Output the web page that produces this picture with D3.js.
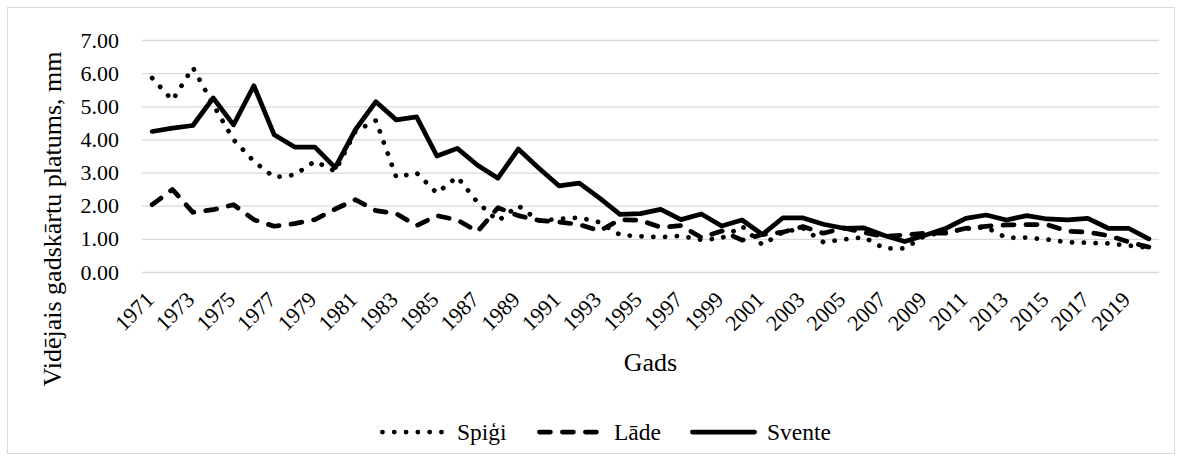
<!DOCTYPE html>
<html>
<head>
<meta charset="utf-8">
<script src="https://cdn.jsdelivr.net/npm/d3@7"></script>
<style>
  body { margin: 0; background: #fff; }
  svg { display: block; }
</style>
</head>
<body>
<div id="plot"></div>
<script>
// data: mean ring width per year, mm
const years = [1971, 1972, 1973, 1974, 1975, 1976, 1977, 1978, 1979, 1980,
  1981, 1982, 1983, 1984, 1985, 1986, 1987, 1988, 1989, 1990,
  1991, 1992, 1993, 1994, 1995, 1996, 1997, 1998, 1999, 2000,
  2001, 2002, 2003, 2004, 2005, 2006, 2007, 2008, 2009, 2010,
  2011, 2012, 2013, 2014, 2015, 2016, 2017, 2018, 2019, 2020];

const spigi = [5.85, 5.18, 6.17, 5.05, 3.99, 3.34, 2.86, 2.93, 3.34, 3.04,
  4.25, 4.57, 2.86, 2.99, 2.38, 2.87, 2.10, 1.54, 2.00, 1.55,
  1.60, 1.64, 1.50, 1.12, 1.08, 1.05, 1.09, 0.97, 1.02, 1.38,
  0.82, 1.20, 1.32, 0.90, 0.98, 1.05, 0.71, 0.71, 1.10, 1.20,
  1.30, 1.35, 1.03, 1.04, 0.98, 0.90, 0.88, 0.86, 0.80, 0.73];

const lade = [2.03, 2.49, 1.80, 1.88, 2.03, 1.58, 1.38, 1.46, 1.58, 1.90,
  2.18, 1.85, 1.76, 1.40, 1.70, 1.57, 1.22, 1.94, 1.70, 1.56,
  1.51, 1.43, 1.24, 1.58, 1.56, 1.35, 1.40, 1.04, 1.24, 0.96,
  1.13, 1.20, 1.37, 1.17, 1.33, 1.19, 1.07, 1.12, 1.17, 1.17,
  1.32, 1.38, 1.42, 1.43, 1.43, 1.23, 1.20, 1.10, 0.91, 0.75];

const svente = [4.24, 4.34, 4.42, 5.25, 4.44, 5.62, 4.14, 3.77, 3.77, 3.15,
  4.30, 5.14, 4.59, 4.68, 3.50, 3.73, 3.22, 2.83, 3.71, 3.14,
  2.60, 2.68, 2.23, 1.74, 1.76, 1.89, 1.58, 1.75, 1.39, 1.57,
  1.13, 1.63, 1.63, 1.44, 1.32, 1.33, 1.10, 0.92, 1.11, 1.31,
  1.62, 1.72, 1.57, 1.70, 1.60, 1.57, 1.62, 1.32, 1.32, 1.00];

const seriesNames = ['Spiģi', 'Lāde', 'Svente'];
const yTicks = [0, 1, 2, 3, 4, 5, 6, 7];

let width = 1182,
    height = 463;

let margin = {
  top: 40,
  bottom: 191,
  left: 142,
  right: 23
};

const font = 'Liberation Serif';

let svg = d3.select('#plot')
  .append('svg')
    .attr('width', width)
    .attr('height', height)
    .style('background', '#FFFFFF');

// chart frame
svg.append('rect')
  .attr('x', 7.5)
  .attr('y', 7.5)
  .attr('width', 1167)
  .attr('height', 446)
  .attr('fill', 'none')
  .attr('stroke', '#d9d9d9');

let xScale = d3.scaleBand()
  .domain(years)
  .range([margin.left, width - margin.right]);

let yScale = d3.scaleLinear()
  .domain([0, 7])
  .range([height - margin.bottom, margin.top]);

// gridlines + y labels
let yAxis = svg.append('g')
  .attr('transform', `translate(${margin.left},0)`)
  .call(d3.axisLeft(yScale)
    .tickValues(yTicks)
    .tickFormat(d3.format('.2f'))
    .tickSize(-(width - margin.left - margin.right))
    .tickPadding(23));

yAxis.attr('font-family', font);
yAxis.select('.domain').remove();
yAxis.selectAll('line')
  .attr('stroke', '#d9d9d9')
  .attr('stroke-width', 1.3);
yAxis.selectAll('text')
  .attr('font-family', font)
  .attr('font-size', 22)
  .attr('fill', '#000');

// x labels, every second year
let xAxis = svg.append('g')
  .attr('transform', `translate(0,${height - margin.bottom})`)
  .call(d3.axisBottom(xScale)
    .tickValues(years.filter((d, i) => i % 2 == 0))
    .tickSize(0));

xAxis.attr('font-family', font);
xAxis.select('.domain').remove();
xAxis.selectAll('text')
  .attr('font-family', font)
  .attr('font-size', 22)
  .attr('fill', '#000')
  .attr('text-anchor', 'end')
  .attr('y', 0)
  .attr('dy', 0)
  .attr('transform', 'translate(3,29) rotate(-45)');

// axis titles
svg.append('text')
  .attr('x', (margin.left + width - margin.right) / 2)
  .attr('y', 371)
  .attr('text-anchor', 'middle')
  .attr('font-family', font)
  .attr('font-size', 26)
  .text('Gads');

svg.append('text')
  .attr('transform', 'translate(61,219) rotate(-90)')
  .attr('text-anchor', 'middle')
  .attr('font-family', font)
  .attr('font-size', 26)
  .text('Vidējais gadskārtu platums, mm');

const styles = [
  { dash: '0.1 11.7' },
  { dash: '11 12' },
  { dash: null }
];

const allSeries = [spigi, lade, svente];

let line = d3.line()
  .x((d, i) => xScale(years[i]) + xScale.bandwidth() / 2)
  .y(d => yScale(d));

allSeries.forEach(function(values, k) {
  svg.append('path')
    .datum(values)
    .attr('fill', 'none')
    .attr('stroke', '#000')
    .attr('stroke-width', 4.75)
    .attr('stroke-linecap', 'round')
    .attr('stroke-linejoin', 'round')
    .attr('stroke-dasharray', styles[k].dash)
    .attr('d', line);
});

// legend
const legendX = [380, 537, 690];
const symbolW = 67;
let legend = svg.append('g');

seriesNames.forEach(function(name, k) {
  legend.append('line')
    .attr('x1', legendX[k] + 2.4)
    .attr('x2', legendX[k] + symbolW - 2.4)
    .attr('y1', 432)
    .attr('y2', 432)
    .attr('stroke', '#000')
    .attr('stroke-width', 4.75)
    .attr('stroke-linecap', 'round')
    .attr('stroke-dasharray', styles[k].dash);

  legend.append('text')
    .attr('x', legendX[k] + symbolW + 10)
    .attr('y', 440)
    .attr('font-family', font)
    .attr('font-size', 23.5)
    .text(name);
});
</script>
</body>
</html>
